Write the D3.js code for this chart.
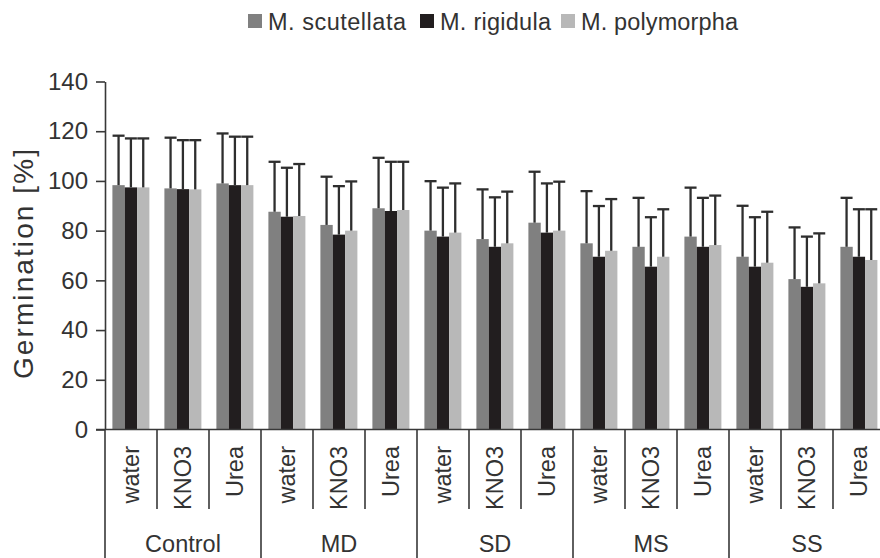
<!DOCTYPE html>
<html>
<head>
<meta charset="utf-8">
<script src="https://cdn.jsdelivr.net/npm/d3@7"></script>
<style>
  html, body { margin: 0; padding: 0; background: #fff; }
  svg { display: block; font-family: "Liberation Sans", Arial, sans-serif; }
</style>
</head>
<body>
<svg id="chart" width="880" height="558"></svg>
<script>
// Germination (%) of three Medicago species under stress / priming treatments
const groups = ["Control", "MD", "SD", "MS", "SS"];
const treatments = ["water", "KNO3", "Urea"];
const species = ["M. scutellata", "M. rigidula", "M. polymorpha"];
const speciesColors = ["#808080", "#221e1f", "#b8b8b8"];

// mean germination, one entry per group × treatment (Control water ... SS Urea)
const scutellata = [98.3, 97.0, 99.0, 87.6, 82.3, 89.0, 80.0, 76.6, 83.2, 74.9, 73.5, 77.6, 69.5, 60.5, 73.5];
const rigidula   = [97.4, 96.7, 98.3, 85.6, 78.4, 87.9, 77.6, 73.5, 79.2, 69.5, 65.5, 73.5, 65.5, 57.4, 69.5];
const polymorpha = [97.4, 96.6, 98.3, 85.9, 80.0, 88.3, 79.2, 74.9, 80.0, 71.9, 69.5, 74.2, 67.1, 58.8, 68.2];

// upper end of the error bars
const scutellataErr = [118.2, 117.4, 119.1, 107.7, 101.7, 109.3, 99.9, 96.6, 103.7, 95.9, 93.2, 97.3, 90.0, 81.3, 93.2];
const rigidulaErr   = [117.1, 116.4, 117.8, 105.3, 97.9, 107.7, 97.3, 93.4, 99.0, 89.9, 85.4, 93.2, 85.4, 77.6, 88.6];
const polymorphaErr = [117.1, 116.4, 117.8, 106.8, 99.8, 107.7, 99.0, 95.7, 99.7, 92.7, 88.6, 94.1, 87.6, 78.9, 88.6];

const yTicks = [0, 20, 40, 60, 80, 100, 120, 140];

const seriesMeans = [scutellata, rigidula, polymorpha];
const seriesErrs = [scutellataErr, rigidulaErr, polymorphaErr];

const rows = [];
groups.forEach((g, gi) => treatments.forEach((t, ti) => {
  const i = gi * 3 + ti;
  rows.push({
    key: g + "|" + t, group: g, treatment: t,
    values: species.map((s, si) => ({ s, si, v: seriesMeans[si][i], e: seriesErrs[si][i] }))
  });
}));

const svg = d3.select("#chart");
const axisColor = "#383838";
const textColor = "#333";

const left = 105, step = 52;
const x0 = d3.scaleBand().domain(rows.map(r => r.key))
  .range([left, left + step * rows.length]).padding(0);
const x1 = d3.scaleBand().domain(species).range([7.4, 44.4]).padding(0);
const y = d3.scaleLinear().domain([0, 140]).range([429.5, 81.5]);

// Bars
const grp = svg.append("g").selectAll("g").data(rows).join("g")
  .attr("transform", d => `translate(${x0(d.key)},0)`);

grp.selectAll("rect").data(d => d.values).join("rect")
  .attr("x", d => x1(d.s))
  .attr("width", x1.bandwidth())
  .attr("y", d => y(d.v))
  .attr("height", d => y(0) - y(d.v))
  .attr("fill", d => speciesColors[d.si]);

// Error bars (upper whisker only)
const eb = grp.selectAll("g.err").data(d => d.values).join("g").attr("class", "err")
  .attr("stroke", "#2e2e2e").attr("stroke-width", 2.3);
eb.append("line")
  .attr("x1", d => x1(d.s) + x1.bandwidth() / 2)
  .attr("x2", d => x1(d.s) + x1.bandwidth() / 2)
  .attr("y1", d => y(d.v)).attr("y2", d => y(d.e));
eb.append("line")
  .attr("x1", d => x1(d.s) + x1.bandwidth() / 2 - 6)
  .attr("x2", d => x1(d.s) + x1.bandwidth() / 2 + 6)
  .attr("y1", d => y(d.e)).attr("y2", d => y(d.e));

// Y axis
const yAxis = svg.append("g").attr("transform", `translate(${left},0)`)
  .call(d3.axisLeft(y).tickValues(yTicks).tickSize(9).tickPadding(8).tickSizeOuter(0));
yAxis.select(".domain").attr("stroke", axisColor).attr("stroke-width", 1.6);
yAxis.selectAll(".tick line").attr("stroke", axisColor).attr("stroke-width", 1.6);
yAxis.selectAll(".tick text").attr("fill", textColor)
  .style("font-size", "24px").style("font-family", "'Liberation Sans', Arial, sans-serif");

// X axis baseline
svg.append("line").attr("x1", left - 9).attr("x2", 880)
  .attr("y1", y(0)).attr("y2", y(0))
  .attr("stroke", axisColor).attr("stroke-width", 1.6);

// Treatment separators and labels
const xb = svg.append("g");
rows.forEach((r, i) => {
  const bx = x0(r.key);
  const isGroupStart = i % 3 === 0;
  xb.append("line").attr("x1", bx).attr("x2", bx)
    .attr("y1", y(0)).attr("y2", isGroupStart ? 558 : 509)
    .attr("stroke", axisColor).attr("stroke-width", 1.6);
  const cx = bx + x0.bandwidth() / 2 + 7.5;
  xb.append("text")
    .attr("transform", `translate(${cx},446) rotate(-90)`)
    .attr("text-anchor", "end")
    .attr("fill", textColor)
    .style("font-size", "23.5px")
    .text(r.treatment);
});
// closing line of the last group
xb.append("line").attr("x1", left + step * rows.length).attr("x2", left + step * rows.length)
  .attr("y1", y(0)).attr("y2", 558).attr("stroke", axisColor).attr("stroke-width", 1.6);

// Group labels
groups.forEach(g => {
  const gx = x0(g + "|water");
  xb.append("text")
    .attr("x", gx + step * 1.5)
    .attr("y", 552)
    .attr("text-anchor", "middle")
    .attr("fill", textColor)
    .style("font-size", "23.5px")
    .text(g);
});

// Y axis title
svg.append("text")
  .attr("transform", "translate(33,264) rotate(-90)")
  .attr("text-anchor", "middle")
  .attr("fill", textColor)
  .attr("textLength", 230)
  .attr("lengthAdjust", "spacing")
  .style("font-size", "28px")
  .text("Germination [%]");

// Legend
const legendX = [248, 420, 561];
const legendW = [138, 111, 157];
const lg = svg.append("g");
species.forEach((s, i) => {
  lg.append("rect").attr("x", legendX[i]).attr("y", 14).attr("width", 14).attr("height", 14)
    .attr("fill", speciesColors[i]);
  lg.append("text").attr("x", legendX[i] + 20).attr("y", 30)
    .attr("fill", textColor)
    .attr("textLength", legendW[i])
    .attr("lengthAdjust", "spacing")
    .style("font-size", "23.5px")
    .text(s);
});
</script>
</body>
</html>
